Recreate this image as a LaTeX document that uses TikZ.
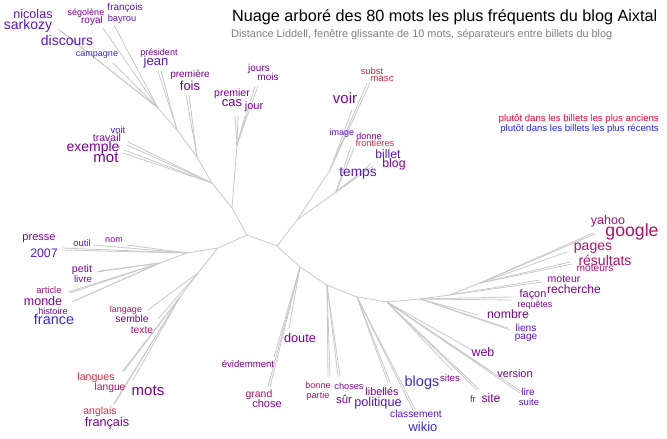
\documentclass[tikz,border=0pt]{standalone}
\usepackage{fontspec}
\setmainfont{Liberation Sans}
\usepackage{xcolor}
\usepackage{tikz}
\definecolor{wred}{HTML}{E2283E}
\definecolor{wredpurple}{HTML}{B0106C}
\definecolor{wpurple}{HTML}{7C0096}
\definecolor{wviolet}{HTML}{5A14C8}
\definecolor{wblue}{HTML}{3A26E2}
\definecolor{twig}{HTML}{C8C8C8}
\tikzset{branch/.style={draw=twig,line width=0.8pt},wd/.style={inner sep=0pt,font=\fontsize{#1}{#1}\selectfont}}

\begin{document}
\begin{tikzpicture}[x=1pt,y=-1pt]
\useasboundingbox(0,0)rectangle(667,439);
%\draw[help lines](0,0)grid[step=50](667,439);
\node[anchor=base west,inner sep=0pt,font=\fontsize{16.2}{16.2}\selectfont](title)at(232,21.5){Nuage arboré des 80 mots les plus fréquents du blog Aixtal};
\node[anchor=base west,inner sep=0pt,font=\fontsize{10.9}{10.9}\selectfont,text=gray](subtitle)at(231,37.5){Distance Liddell, fenêtre glissante de 10 mots, séparateurs entre billets du blog};
\node[anchor=base east,inner sep=0pt,font=\fontsize{9.6}{9.6}\selectfont,text=red!80!magenta](old)at(659,121.5){plutôt dans les billets les plus anciens};
\node[anchor=base east,inner sep=0pt,font=\fontsize{9.6}{9.6}\selectfont,text=blue!85!white](new)at(659,131.5){plutôt dans les billets les plus récents};

\coordinate(r0)at(247,235);\coordinate(r1)at(277,246);
\coordinate(a)at(232,208);\coordinate(a1)at(237,145);\coordinate(b)at(212,183);
\coordinate(d)at(197,157);\coordinate(e)at(177,130);\coordinate(f)at(158,108);
\coordinate(g)at(218,248);\coordinate(h)at(187,253);\coordinate(h1)at(160,263);
\coordinate(j)at(198,273);\coordinate(k)at(180,297);
\coordinate(m)at(297,220);\coordinate(p)at(330,170);\coordinate(q)at(336,192);
\coordinate(r)at(300,267);\coordinate(s)at(327,285);\coordinate(t)at(357,297);
\coordinate(u)at(387,302);\coordinate(v)at(420,299);\coordinate(w)at(450,295);\coordinate(x)at(480,283);
\foreach\from/\to in{r0/r1,r0/a,a/a1,a/b,b/d,d/e,e/f,r0/g,g/h,h/h1,g/j,j/k,r1/m,m/p,m/q,r1/r,r/s,s/t,t/u,u/v,v/w,w/x}
  \draw[branch](\from)--(\to);

% leaves
\foreach\p/\n/\x/\y in{a1/cas/235/116,a1/premier/238/116,a1/jour/245/116,a1/jours/255/86,a1/mois/258/86,
  b/voit/128/142,b/travail/127/145,b/exemple/124/150,b/mot/123/153,d/fois/186/95,d/premiere/189/95,
  e/jean/158/71,e/president/161/71,f/campagne/113/63,f/royal/103/28,f/bayrou/114/25,f/sarkozy/58/29,f/discours/61/31,
  h/presse/62/248,h/2007/62/250,h/outil/93/245,h/nom/127/245,
  h1/petit/97/272,h1/livre/99/271,h1/article/68/292,h1/monde/70/293,h1/histoire/72/302,h1/france/74/301,
  j/langage/148/310,j/semble/158/319,k/langues/122/372,k/langue/124/371,k/mots/133/380,k/anglais/113/405,k/francais/115/403,
  p/voir/352/110,p/image/343/140,p/subst/367/83,p/masc/370/83,
  q/donne/351/146,q/frontieres/354/148,q/temps/357/177,q/billet/371/164,q/blog/373/166,
  r/doute/289/328,r/evidemment/274/357,r/grand/268/387,r/chose/270/387,
  s/bonne/328/377,s/partie/330/377,s/choses/338/377,s/sur/340/376,
  t/libelles/388/383,t/politique/390/382,t/classement/413/410,t/wikio/415/409,
  u/sites/452/370,u/fr/477/390,u/site/479/389,u/web/472/350,u/version/492/372,u/lire/520/393,u/suite/522/392,
  v/nombre/478/315,v/liens/508/328,v/page/510/330,v/facon/512/297,v/requetes/512/300,
  w/moteur/540/280,w/recherche/542/282,
  x/yahoo/593/233,x/google/595/234,x/pages/567/252,x/resultats/570/262,x/moteurs/572/264}
  {\coordinate(l-\n)at(\x,\y);\draw[branch](\p)--(l-\n);}

% words
\foreach\n/\t/\x/\y/\s/\c in{nicolas/nicolas/33/14/12.6/wviolet,sarkozy/sarkozy/28/26/14/wviolet,
  discours/discours/67/40/14/wviolet,segolene/ségolène/86/13/9/wpurple,royal/royal/92/21/10/wpurple,
  francois/françois/125/8/10/wviolet,bayrou/bayrou/122/19/9.3/wviolet,campagne/campagne/97/55/9/wblue,
  president/président/159/53/9/wpurple,jean/jean/156/62/13/wviolet,premiere/première/190/75/10/wpurple,
  fois/fois/190/86/13/wpurple,voit/voit/118/130/9.5/wblue,travail/travail/107/138/10.5/wpurple,
  exemple/exemple/93/148/14/wpurple,mot/mot/106/158/15/wpurple,
  jours/jours/259/69/10/wpurple,mois/mois/268/77/10/wpurple,premier/premier/232/94/10.5/wpurple,
  cas/cas/232/103/13/wpurple,jour/jour/254/107/11/wpurple,
  voir/voir/345/98/15/wpurple,subst/subst/372/71/9.5/wred,masc/masc/382/79/9.8/wred,
  image/image/342/133/9/wviolet,donne/donne/369/136/9/wpurple,frontieres/frontières/375/143/9.3/wred,
  billet/billet/388/154/12.2/wviolet,blog/blog/394/164/12.3/wpurple,temps/temps/358/173/13.7/wviolet,
  presse/presse/39/239/11/wpurple,2007/2007/44/253/12.3/wviolet,outil/outil/82/243/9.4/wviolet,
  nom/nom/114/240/9/wpurple,petit/petit/82/270/10.6/wpurple,livre/livre/83/279/9.8/wpurple,
  article/article/49/290/9.4/wredpurple,monde/monde/43/301/12.5/wpurple,histoire/histoire/53/311/9.1/wpurple,
  france/france/54/319/14.4/wblue,langage/langage/126/310/9/wredpurple,semble/semble/132/319/10.3/wpurple,
  texte/texte/142/330/10.3/wredpurple,langues/langues/96/378/10.6/wred,langue/langue/110/388/10.3/wredpurple,
  mots/mots/148/391/15/wpurple,anglais/anglais/100/412/10.5/wred,francais/français/107/423/12.7/wpurple,
  doute/doute/300/338/12.7/wpurple,evidemment/évidemment/248/364/9.6/wpurple,grand/grand/259/395/10.4/wredpurple,
  chose/chose/267/404/11/wpurple,bonne/bonne/318/385/9/wredpurple,partie/partie/318/396/9.2/wredpurple,
  choses/choses/349/386/9.2/wpurple,sur/sûr/344/399/11.3/wpurple,libelles/libellés/382/392/10.8/wpurple,
  politique/politique/378/403/12.7/wviolet,blogs/blogs/422/383/14.5/wblue,classement/classement/416/414/10.2/wviolet,
  wikio/wikio/423/427/12.9/wblue,sites/sites/450/378/9.7/wpurple,
  yahoo/yahoo/608/221/12.5/wredpurple,google/google/632/232/17.7/wredpurple,pages/pages/593/248/14/wredpurple,
  resultats/résultats/605/260/14/wredpurple,moteurs/moteurs/595/268/10.2/wredpurple,moteur/moteur/564/279/10.5/wpurple,
  recherche/recherche/574/289/12.1/wpurple,facon/façon/533/295/10.9/wpurple,requetes/requêtes/535/305/8.9/wpurple,
  nombre/nombre/508/314/12.3/wpurple,liens/liens/526/328/10.2/wviolet,page/page/526/338/10/wviolet,
  web/web/483/352/12.4/wpurple,version/version/515/374/11/wpurple,lire/lire/528/392/10/wviolet,
  suite/suite/529/402/9.5/wviolet,fr/fr/473/399/9.3/wviolet,site/site/491/398/12.2/wpurple}
  \node[wd=\s,text=\c](w-\n)at(\x,\y){\t};
\end{tikzpicture}
\end{document}
